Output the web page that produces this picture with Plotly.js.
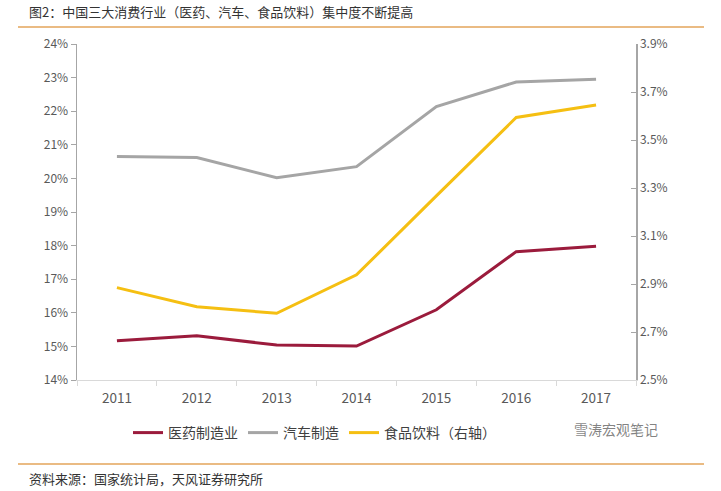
<!DOCTYPE html>
<html>
<head>
<meta charset="utf-8">
<script src="https://cdn.plot.ly/plotly-3.0.1.min.js"></script>
<style>
html,body{margin:0;padding:0;background:#fff;}
#chart{width:721px;height:491px;}
</style>
</head>
<body>
<div id="chart"></div>
<script>
var years = ['2011','2012','2013','2014','2015','2016','2017'];
var pharma = [15.17, 15.32, 15.04, 15.01, 16.09, 17.82, 17.98];
var auto = [20.65, 20.62, 20.02, 20.35, 22.14, 22.87, 22.95];
var food = [2.885, 2.805, 2.778, 2.938, 3.267, 3.594, 3.646];
var leftTicks = [14,15,16,17,18,19,20,21,22,23,24];
var rightTicks = [2.5,2.7,2.9,3.1,3.3,3.5,3.7,3.9];
var names = ['医药制造业','汽车制造','食品饮料（右轴）'];

var FONT = '"Noto Sans CJK SC", "Noto Sans", sans-serif';
var W = 721, H = 491, L = 77, R = 636, T = 44, B = 380;
function px(x){return (x-L)/(R-L);}
function py(y){return (B-y)/(B-T);}

var traces = [
  {x: years, y: pharma, name: names[0], type:'scatter', mode:'lines', line:{color:'#9B1B3C', width:3}},
  {x: years, y: auto, name: names[1], type:'scatter', mode:'lines', line:{color:'#A5A5A5', width:3}},
  {x: years, y: food, name: names[2], type:'scatter', mode:'lines', yaxis:'y2', line:{color:'#F5BF12', width:3}}
];

var layout = {
  width: W, height: H,
  margin: {l: L, r: W-R, t: T, b: H-B},
  paper_bgcolor:'#fff', plot_bgcolor:'#fff',
  font: {family: FONT, size: 12, color:'#595959'},
  showlegend: true,
  legend: {orientation:'h', x: px(128), y: py(417), xanchor:'left', yanchor:'top',
           font:{size:14, color:'#404040', family: FONT}, itemwidth: 30, tracegroupgap: 0},
  xaxis: {type:'category', range:[-0.5, 6.5], tickson:'boundaries', ticks:'outside', ticklen:5, tickcolor:'#D9D9D9',
          showline:true, linecolor:'#D9D9D9', linewidth:1, showgrid:false, zeroline:false,
          ticklabelstandoff: 6,
          tickfont:{size:13.5, color:'#595959'}, fixedrange:true},
  yaxis: {range:[14,24], tickvals: leftTicks, ticktext: leftTicks.map(function(v){return v+'%';}),
          ticks:'outside', ticklen:5, tickcolor:'#A6A6A6', showline:true, linecolor:'#A6A6A6', linewidth:1.5,
          showgrid:false, zeroline:false, tickfont:{size:12, color:'#595959'}},
  yaxis2: {range:[2.5,3.9], overlaying:'y', side:'right', tickvals: rightTicks,
           ticktext: rightTicks.map(function(v){return v.toFixed(1)+'%';}),
           ticks:'inside', ticklen:5, tickcolor:'#A6A6A6', showline:true, linecolor:'#A6A6A6', linewidth:1.5,
           showgrid:false, zeroline:false, tickfont:{size:12, color:'#595959'}},
  shapes: [
    {type:'line', xref:'paper', yref:'paper', x0:px(18), x1:px(704), y0:py(27), y1:py(27), line:{color:'#E3A45A', width:1.5}},
    {type:'line', xref:'paper', yref:'paper', x0:px(18), x1:px(704), y0:py(464), y1:py(464), line:{color:'#E3A45A', width:1.5}}
  ],
  annotations: [
    {text:'图2：中国三大消费行业（医药、汽车、食品饮料）集中度不断提高', xref:'paper', yref:'paper',
     x:px(27), y:py(12), xanchor:'left', yanchor:'middle', showarrow:false, font:{size:13, color:'#333333', family:FONT}},
    {text:'资料来源：国家统计局，天风证券研究所', xref:'paper', yref:'paper',
     x:px(27), y:py(478), xanchor:'left', yanchor:'middle', showarrow:false, font:{size:13, color:'#333333', family:FONT}},
    {text:'雪涛宏观笔记', xref:'paper', yref:'paper',
     x:px(572), y:py(429), xanchor:'left', yanchor:'middle', showarrow:false, font:{size:14, color:'rgba(90,90,90,0.75)', family:FONT}}
  ]
};

Plotly.newPlot('chart', traces, layout, {displayModeBar:false, staticPlot:true});
</script>
</body>
</html>
